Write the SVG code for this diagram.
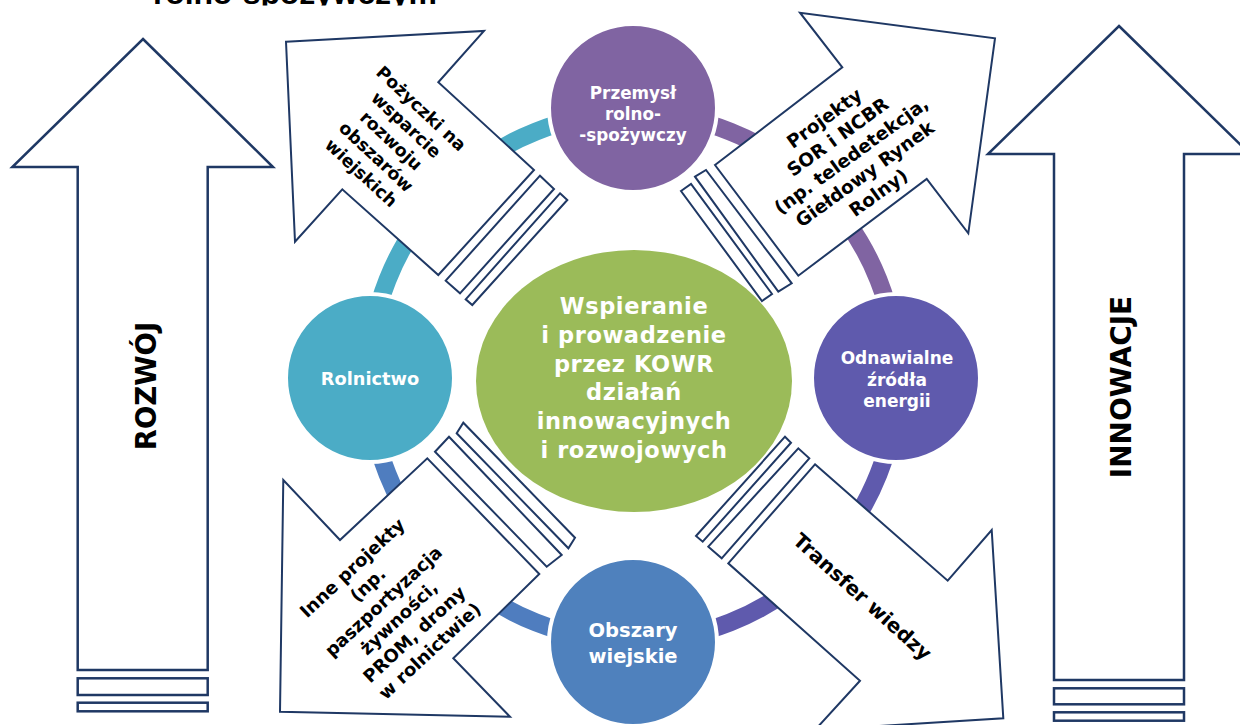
<svg xmlns="http://www.w3.org/2000/svg" width="1240" height="725" viewBox="0 0 1240 725">
<defs>
<style>
.arr{fill:#fff;stroke:#1F3864;stroke-width:2;stroke-linejoin:miter}
.varr{fill:#fff;stroke:#1F3864;stroke-width:2.5}
.ring{fill:none;stroke-width:18}
.circ{stroke:#fff;stroke-width:4}
.wt{fill:#fff;font-family:"DejaVu Sans",Verdana,sans-serif;font-weight:bold;text-anchor:middle}
.bt{fill:#000;font-family:"DejaVu Sans",Verdana,sans-serif;font-weight:bold;text-anchor:middle}
</style>
<clipPath id="topclip"><rect x="0" y="0" width="1240" height="5.5"/></clipPath>
</defs>
<rect width="1240" height="725" fill="#fff"/>

<text x="153" y="4" clip-path="url(#topclip)" font-family="'Liberation Sans',Arial,sans-serif" font-weight="bold" font-size="32" textLength="284" fill="#000">rolno-spożywczym</text>

<g id="arrow-rozwoj">
<polygon class="varr" points="143,39 273,167 207.7,167 207.7,670 77.7,670 77.7,167 12.3,167"/>
<rect class="varr" x="77.7" y="678.3" width="130" height="16.7"/>
<rect class="varr" x="77.7" y="702.7" width="130" height="8.6"/>
<text class="bt" transform="translate(156,386) rotate(-90)" font-size="27.5">ROZWÓJ</text>
</g>

<g id="arrow-innowacje">
<polygon class="varr" points="1119,26 1250,154 1184,154 1184,680 1054,680 1054,154 988,154"/>
<rect class="varr" x="1054" y="688.3" width="130" height="16"/>
<rect class="varr" x="1054" y="712.3" width="130" height="8.4"/>
<text class="bt" transform="translate(1131,387) rotate(-90)" font-size="28">INNOWACJE</text>
</g>

<g id="connectors">
<path class="ring" stroke="#4BACC6" d="M 369 377 A 264 264 0 0 1 633 113"/>
<path class="ring" stroke="#8064A2" d="M 633 113 A 264 264 0 0 1 897 377"/>
<path class="ring" stroke="#5F5AAD" d="M 897 377 A 264 264 0 0 1 633 641"/>
<path class="ring" stroke="#4F7DBF" d="M 633 641 A 264 264 0 0 1 369 377"/>
</g>

<g id="node-przemysl">
<circle class="circ" cx="633" cy="108" r="84" fill="#8064A2"/>
<text class="wt" x="633" y="99" font-size="16.8">Przemysł</text>
<text class="wt" x="633" y="120" font-size="16.8">rolno-</text>
<text class="wt" x="633" y="140.5" font-size="16.8">-spożywczy</text>
</g>

<g id="node-rolnictwo">
<circle class="circ" cx="370" cy="378" r="84" fill="#4BACC6"/>
<text class="wt" x="370" y="385" font-size="17.8">Rolnictwo</text>
</g>

<g id="node-oze">
<circle class="circ" cx="896" cy="378" r="84" fill="#5F5AAD"/>
<text class="wt" x="897" y="364" font-size="17">Odnawialne</text>
<text class="wt" x="897" y="385.5" font-size="17">źródła</text>
<text class="wt" x="897" y="407" font-size="17">energii</text>
</g>

<g id="node-obszary">
<circle class="circ" cx="633" cy="642" r="84" fill="#4F81BD"/>
<text class="wt" x="633" y="637" font-size="19.5">Obszary</text>
<text class="wt" x="633" y="663" font-size="19.5">wiejskie</text>
</g>

<g id="node-center">
<ellipse cx="634" cy="381" rx="158" ry="131" fill="#9BBB59"/>
<g class="wt" font-size="22.5" letter-spacing="0.6">
<text x="634" y="314">Wspieranie</text>
<text x="634" y="342.8">i prowadzenie</text>
<text x="634" y="371.6">przez KOWR</text>
<text x="634" y="400.4">działań</text>
<text x="634" y="429.2">innowacyjnych</text>
<text x="634" y="458">i rozwojowych</text>
</g>
</g>

<g id="arrow-pozyczki">
<polygon class="arr" points="286,41.7 484,31 438.3,82.3 534,170 438.3,275 342.3,189.3 295,241.7"/>
<polygon class="arr" points="540,175.7 554,189 460,293.3 445.7,280.7"/>
<polygon class="arr" points="560,193.3 567.3,200 472.3,305 465.7,299.3"/>
<g class="bt" font-size="17.5" transform="translate(391.5,140.4) rotate(43)">
<text x="0" y="-37.5">Pożyczki na</text>
<text x="0" y="-15.5">wsparcie</text>
<text x="0" y="6.5">rozwoju</text>
<text x="0" y="28.5">obszarów</text>
<text x="0" y="50.5">wiejskich</text>
</g>
</g>

<g id="arrow-projekty">
<polygon class="arr" points="715,165 842.3,67.3 800,12.7 995,38.3 968.3,233.3 926.7,179 798.3,275.7"/>
<polygon class="arr" points="695,176.7 706,170 791.7,283.3 778.3,291.7"/>
<polygon class="arr" points="681,191 691,184 772,294 762,301"/>
<g class="bt" font-size="18.5" transform="translate(851,155) rotate(-36)">
<text x="0" y="-39">Projekty</text>
<text x="0" y="-16">SOR i NCBR</text>
<text x="0" y="7">(np. teledetekcja,</text>
<text x="0" y="30">Giełdowy Rynek</text>
<text x="0" y="53">Rolny)</text>
</g>
</g>

<g id="arrow-inne">
<polygon class="arr" points="280,711.7 283.3,480 340,540 427.3,458.3 539.3,574 453.3,658.3 510,716.7"/>
<polygon class="arr" points="435,451.7 449,436.7 561.7,555 546.7,566.7"/>
<polygon class="arr" points="456.7,433.3 463.3,422.7 575,537.7 568.4,548.3"/>
<g class="bt" font-size="18" transform="translate(391,609.5) rotate(-43)">
<text x="0" y="-50.5">Inne projekty</text>
<text x="0" y="-27.8">(np.</text>
<text x="0" y="-5">paszportyzacja</text>
<text x="0" y="17.7">żywności,</text>
<text x="0" y="40.4">PROM, drony</text>
<text x="0" y="63">w rolnictwie)</text>
</g>
</g>

<g id="arrow-transfer">
<polygon class="arr" points="815,464.3 947.7,580.7 991.7,530 1003.3,718.3 815,730 860,680.7 728.3,563.3"/>
<polygon class="arr" points="708.3,546.7 798.3,448.3 809.3,458.3 721.7,558.3"/>
<polygon class="arr" points="696,536 785,436.7 791,442.7 702.7,541.7"/>
<text class="bt" font-size="20" transform="translate(862.5,596.7) rotate(42)" x="0" y="7">Transfer wiedzy</text>
</g>
</svg>
